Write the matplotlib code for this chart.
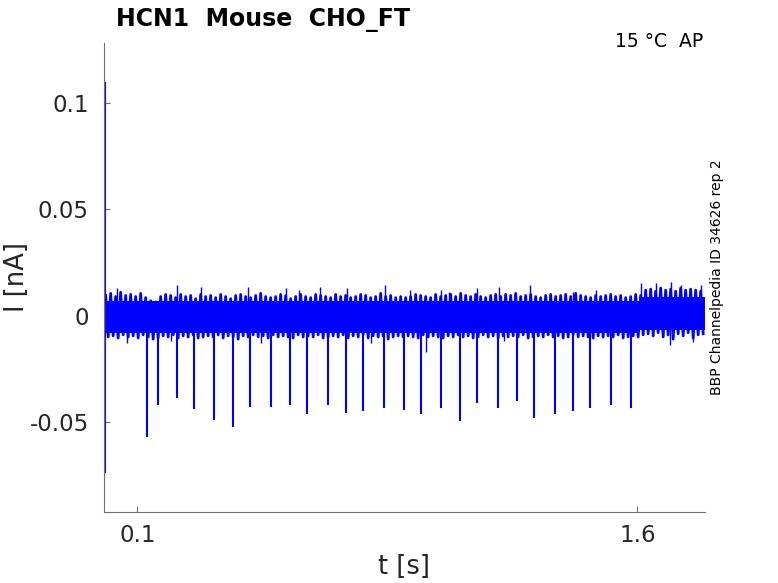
import numpy as np
import matplotlib
matplotlib.use("Agg")
import matplotlib.pyplot as plt

# ---------------- data ----------------
title = "HCN1  Mouse  CHO_FT"
cond_text = "15 \u00b0C  AP"
side_text = "BBP Channelpedia ID 34626 rep 2"
x_ticks = [0.1, 1.6]
x_ticklabels = ["0.1", "1.6"]
y_ticks = [0.1, 0.05, 0, -0.05]
y_ticklabels = ["0.1", "0.05", "0", "-0.05"]
x_lim = (0.0, 1.803)
y_lim = (-0.0922, 0.1284)

# noise extremes of the trace (units 1e-3 nA), maxima every 0.015 s from 0.005 s,
# minima half a step later
env_t0 = 0.005
env_dt = 0.015
env_top = [9.5, 10.5, 9, 11, 9.5, 10, 9, 10.5, 8.5, 7,
           6.5, 9, 10, 9.5, 8.5, 10, 9, 9.5, 8, 10,
           9, 9.5, 8.5, 10, 9, 8, 9.5, 10, 9, 8.5,
           9.5, 10.5, 9, 8.5, 9, 10, 9.5, 8, 9, 10,
           9, 8.5, 10, 9.5, 9, 8.5, 10, 9, 9.5, 8.5,
           9, 10, 9.5, 8.5, 9, 10.5, 9, 9.5, 8.5, 9,
           8.5, 9, 10, 9.5, 9, 8.5, 10, 9, 9.5, 10,
           9, 10.5, 9.5, 9, 10, 9, 8.5, 9.5, 10, 9,
           10, 9.5, 10.5, 9, 9.5, 10, 9, 8.5, 9.5, 10,
           9, 9.5, 10, 9, 10.5, 9.5, 9, 8.5, 9.5, 9,
           9.5, 10, 9, 9.5, 8.5, 9, 10, 9.5, 12, 12.5,
           11.5, 13, 12, 12.5, 11.5, 13, 12, 12.5, 12, 11.5]
env_bot = [-10, -9.5, -10.5, -9, -10, -9.5, -10.5, -9, -10, -11,
           -10.5, -9.5, -10, -9, -10.5, -9.5, -10, -9, -10.5, -10,
           -9.5, -10, -9, -10.5, -9.5, -10, -11, -9.5, -10, -9,
           -10, -9.5, -10.5, -9, -10, -9.5, -10, -10.5, -9, -10,
           -9.5, -10, -9, -10.5, -10, -9.5, -10, -9, -10.5, -9.5,
           -10, -9, -10.5, -9.5, -10, -9.5, -11, -10, -9.5, -10,
           -9.5, -10, -10.5, -9, -10, -9.5, -10, -10.5, -9.5, -10,
           -9, -10, -9.5, -10.5, -10, -9, -10, -9.5, -10.5, -9.5,
           -10, -9.5, -10, -9, -10.5, -10, -9.5, -10, -9, -10,
           -9.5, -10.5, -10, -9, -10, -9.5, -10, -10.5, -9.5, -10,
           -9.5, -10, -9, -10.5, -10, -9.5, -10, -9, -8.5, -9.5,
           -8, -10, -9, -11, -8.5, -9.5, -8, -10.5, -9, -8.5]

# solid core of the noise band (s, 1e-3 nA)
core_t = [0.0, 1.605, 1.605, 1.803]
core_top = [7.0, 7.0, 9.0, 9.0]
core_bot = [-8.0, -8.0, -6.5, -6.5]

# narrow upward noise peaks (s, nA)
peak_t = [0.038, 0.219, 0.290, 0.433, 0.546, 0.585, 0.648, 0.730, 0.843,
          0.918, 1.012, 1.035, 1.120, 1.185, 1.277, 1.408, 1.475, 1.610,
          1.655, 1.702, 1.730, 1.790]
peak_v = [0.0128, 0.0144, 0.0136, 0.0136, 0.0128, 0.0120, 0.0136, 0.0128, 0.0144,
          0.0120, 0.0120, 0.0113, 0.0128, 0.0136, 0.0144, 0.0113, 0.0120, 0.0152,
          0.0152, 0.0160, 0.0144, 0.0144]

# narrow downward noise dips (s, nA)
dip_t = [0.070, 0.200, 0.470, 0.800, 0.966, 1.200, 1.698, 1.766]
dip_v = [-0.013, -0.012, -0.013, -0.013, -0.017, -0.012, -0.0138, -0.0123]

# evoked negative spikes (s, nA)
spike_t = [0.129, 0.162, 0.218, 0.270, 0.330, 0.387, 0.438, 0.501, 0.558,
           0.610, 0.672, 0.726, 0.778, 0.841, 0.900, 0.951, 1.010, 1.068,
           1.119, 1.182, 1.239, 1.291, 1.352, 1.407, 1.458, 1.521, 1.580]
spike_v = [-0.0570, -0.0420, -0.0386, -0.0441, -0.0491, -0.0525, -0.0431, -0.0431, -0.0421,
           -0.0464, -0.0419, -0.0457, -0.0449, -0.0433, -0.0442, -0.0464, -0.0433, -0.0494,
           -0.0410, -0.0433, -0.0402, -0.0480, -0.0464, -0.0449, -0.0433, -0.0421, -0.0433]

# initial capacitive artefact (s, nA)
artifact_t = 0.002
artifact_max = 0.110
artifact_min = -0.074

# ---------------- figure ----------------
W, H = 778, 583
fig = plt.figure(figsize=(W / 100, H / 100), dpi=100)
ax = fig.add_axes([104 / W, 1 - 511.7 / H, 601 / W, 469 / H])

blue = (0, 0, 1)
env_t = env_t0 + env_dt * np.arange(len(env_top))
zig_t = np.column_stack([env_t, env_t + env_dt / 2]).ravel()
zig_v = np.column_stack([env_top, env_bot]).ravel() * 1e-3

ax.fill_between(core_t, np.array(core_bot) * 1e-3, np.array(core_top) * 1e-3,
                color=blue, lw=0)
ax.plot(zig_t, zig_v, color=blue, lw=2.0)
ax.vlines(peak_t, 0, peak_v, color=blue, lw=1.0)
ax.vlines(dip_t, 0, dip_v, color=blue, lw=1.0)
ax.vlines(spike_t, 0, spike_v, color=blue, lw=1.5)
ax.vlines([artifact_t], artifact_min, artifact_max, color="#1515b8", lw=1.6)

ax.set_xlim(*x_lim)
ax.set_ylim(*y_lim)
ax.set_xticks(x_ticks)
ax.set_xticklabels(x_ticklabels)
ax.set_yticks(y_ticks)
ax.set_yticklabels(y_ticklabels)

for s in ["top", "right"]:
    ax.spines[s].set_visible(False)
for s in ["left", "bottom"]:
    ax.spines[s].set_color("#707070")
    ax.spines[s].set_linewidth(0.8)

ax.tick_params(axis="both", direction="in", length=4.5, width=0.8,
               color="#707070", labelcolor="#262626", labelsize=16.5)
ax.tick_params(axis="y", pad=11)
ax.tick_params(axis="x", pad=9)

ax.set_xlabel("t [s]", fontsize=18.5, color="#262626")
ax.set_ylabel("I [nA]", fontsize=18.5, color="#262626")
ax.xaxis.set_label_coords(0.5, -0.09)
ax.yaxis.set_label_coords(-0.123, 0.5)

fig.text(116 / W, 1 - 26 / H, title, fontsize=17, fontweight="bold",
         ha="left", va="baseline", color="black")
fig.text(703 / W, 1 - 47.3 / H, cond_text, fontsize=13.5,
         ha="right", va="baseline", color="black")
fig.text(717 / W, 1 - 277 / H, side_text, fontsize=10, rotation=90,
         ha="center", va="center", color="black")

fig.savefig("out.png", dpi=100)
